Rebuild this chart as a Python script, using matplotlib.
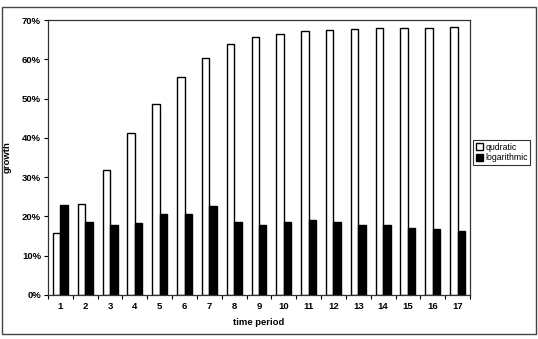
import matplotlib
matplotlib.use("Agg")
import matplotlib.pyplot as plt
from matplotlib.patches import Rectangle
import numpy as np

periods = [str(i) for i in range(1, 18)]
quadratic = [15.9, 23.1, 31.9, 41.2, 48.5, 55.5, 60.3, 63.8, 65.6, 66.5, 67.1, 67.5, 67.7, 68.0, 68.0, 68.0, 68.1]
logarithmic = [22.8, 18.7, 17.9, 18.3, 20.7, 20.6, 22.6, 18.7, 17.9, 18.6, 19.1, 18.5, 17.8, 17.9, 17.0, 16.7, 16.2]
yticks = [0, 10, 20, 30, 40, 50, 60, 70]
ytick_labels = [f"{v}%" for v in yticks]

plt.rcParams['font.family'] = ['Liberation Sans', 'DejaVu Sans']

fig = plt.figure(figsize=(5.38, 3.39), dpi=100)
ax = fig.add_axes([48/538, 1-295/339, (470-48)/538, (295-20)/339])

x = np.arange(len(periods))
w = 0.3
ax.bar(x - w/2, quadratic, w, color='white', edgecolor='black', linewidth=1.0, label='qudratic')
ax.bar(x + w/2, logarithmic, w, color='black', edgecolor='black', linewidth=1.0, label='logarithmic')

ax.set_xlim(-0.5, len(periods) - 0.5)
ax.set_ylim(0, 70)
ax.set_yticks(yticks)
ax.set_yticklabels(ytick_labels, fontsize=6.8, fontweight='bold')
ax.set_xticks(x)
ax.set_xticklabels(periods, fontsize=6.8, fontweight='bold')
ax.tick_params(axis='x', length=0, pad=5)
ax.set_xticks(np.arange(-0.5, len(periods)), minor=True)
ax.tick_params(axis='x', which='minor', length=3, width=0.8, direction='out')
ax.tick_params(axis='y', length=3, width=0.8, direction='out', pad=2)
for s in ax.spines.values():
    s.set_linewidth(0.9)
    s.set_color('#333333')

ax.set_xlabel('time period', fontsize=6.8, fontweight='bold', labelpad=5)
ax.set_ylabel('growth', fontsize=6.8, fontweight='bold')
ax.yaxis.set_label_coords((12-48)/422, 0.5)

leg = fig.legend(loc='upper left', bbox_to_anchor=(473/538, 1-140/339), fontsize=6.3,
                 frameon=True, fancybox=False, edgecolor='black', handlelength=0.8,
                 handleheight=0.8, handletextpad=0.3, borderpad=0.3, labelspacing=0.2,
                 borderaxespad=0)
leg.get_frame().set_linewidth(0.8)

fig.patches.append(Rectangle((2/538, 1-334/339), 534/538, (334-7)/339, transform=fig.transFigure,
                             fill=False, edgecolor='#444444', linewidth=1.0))

fig.savefig('out.png', dpi=100)
